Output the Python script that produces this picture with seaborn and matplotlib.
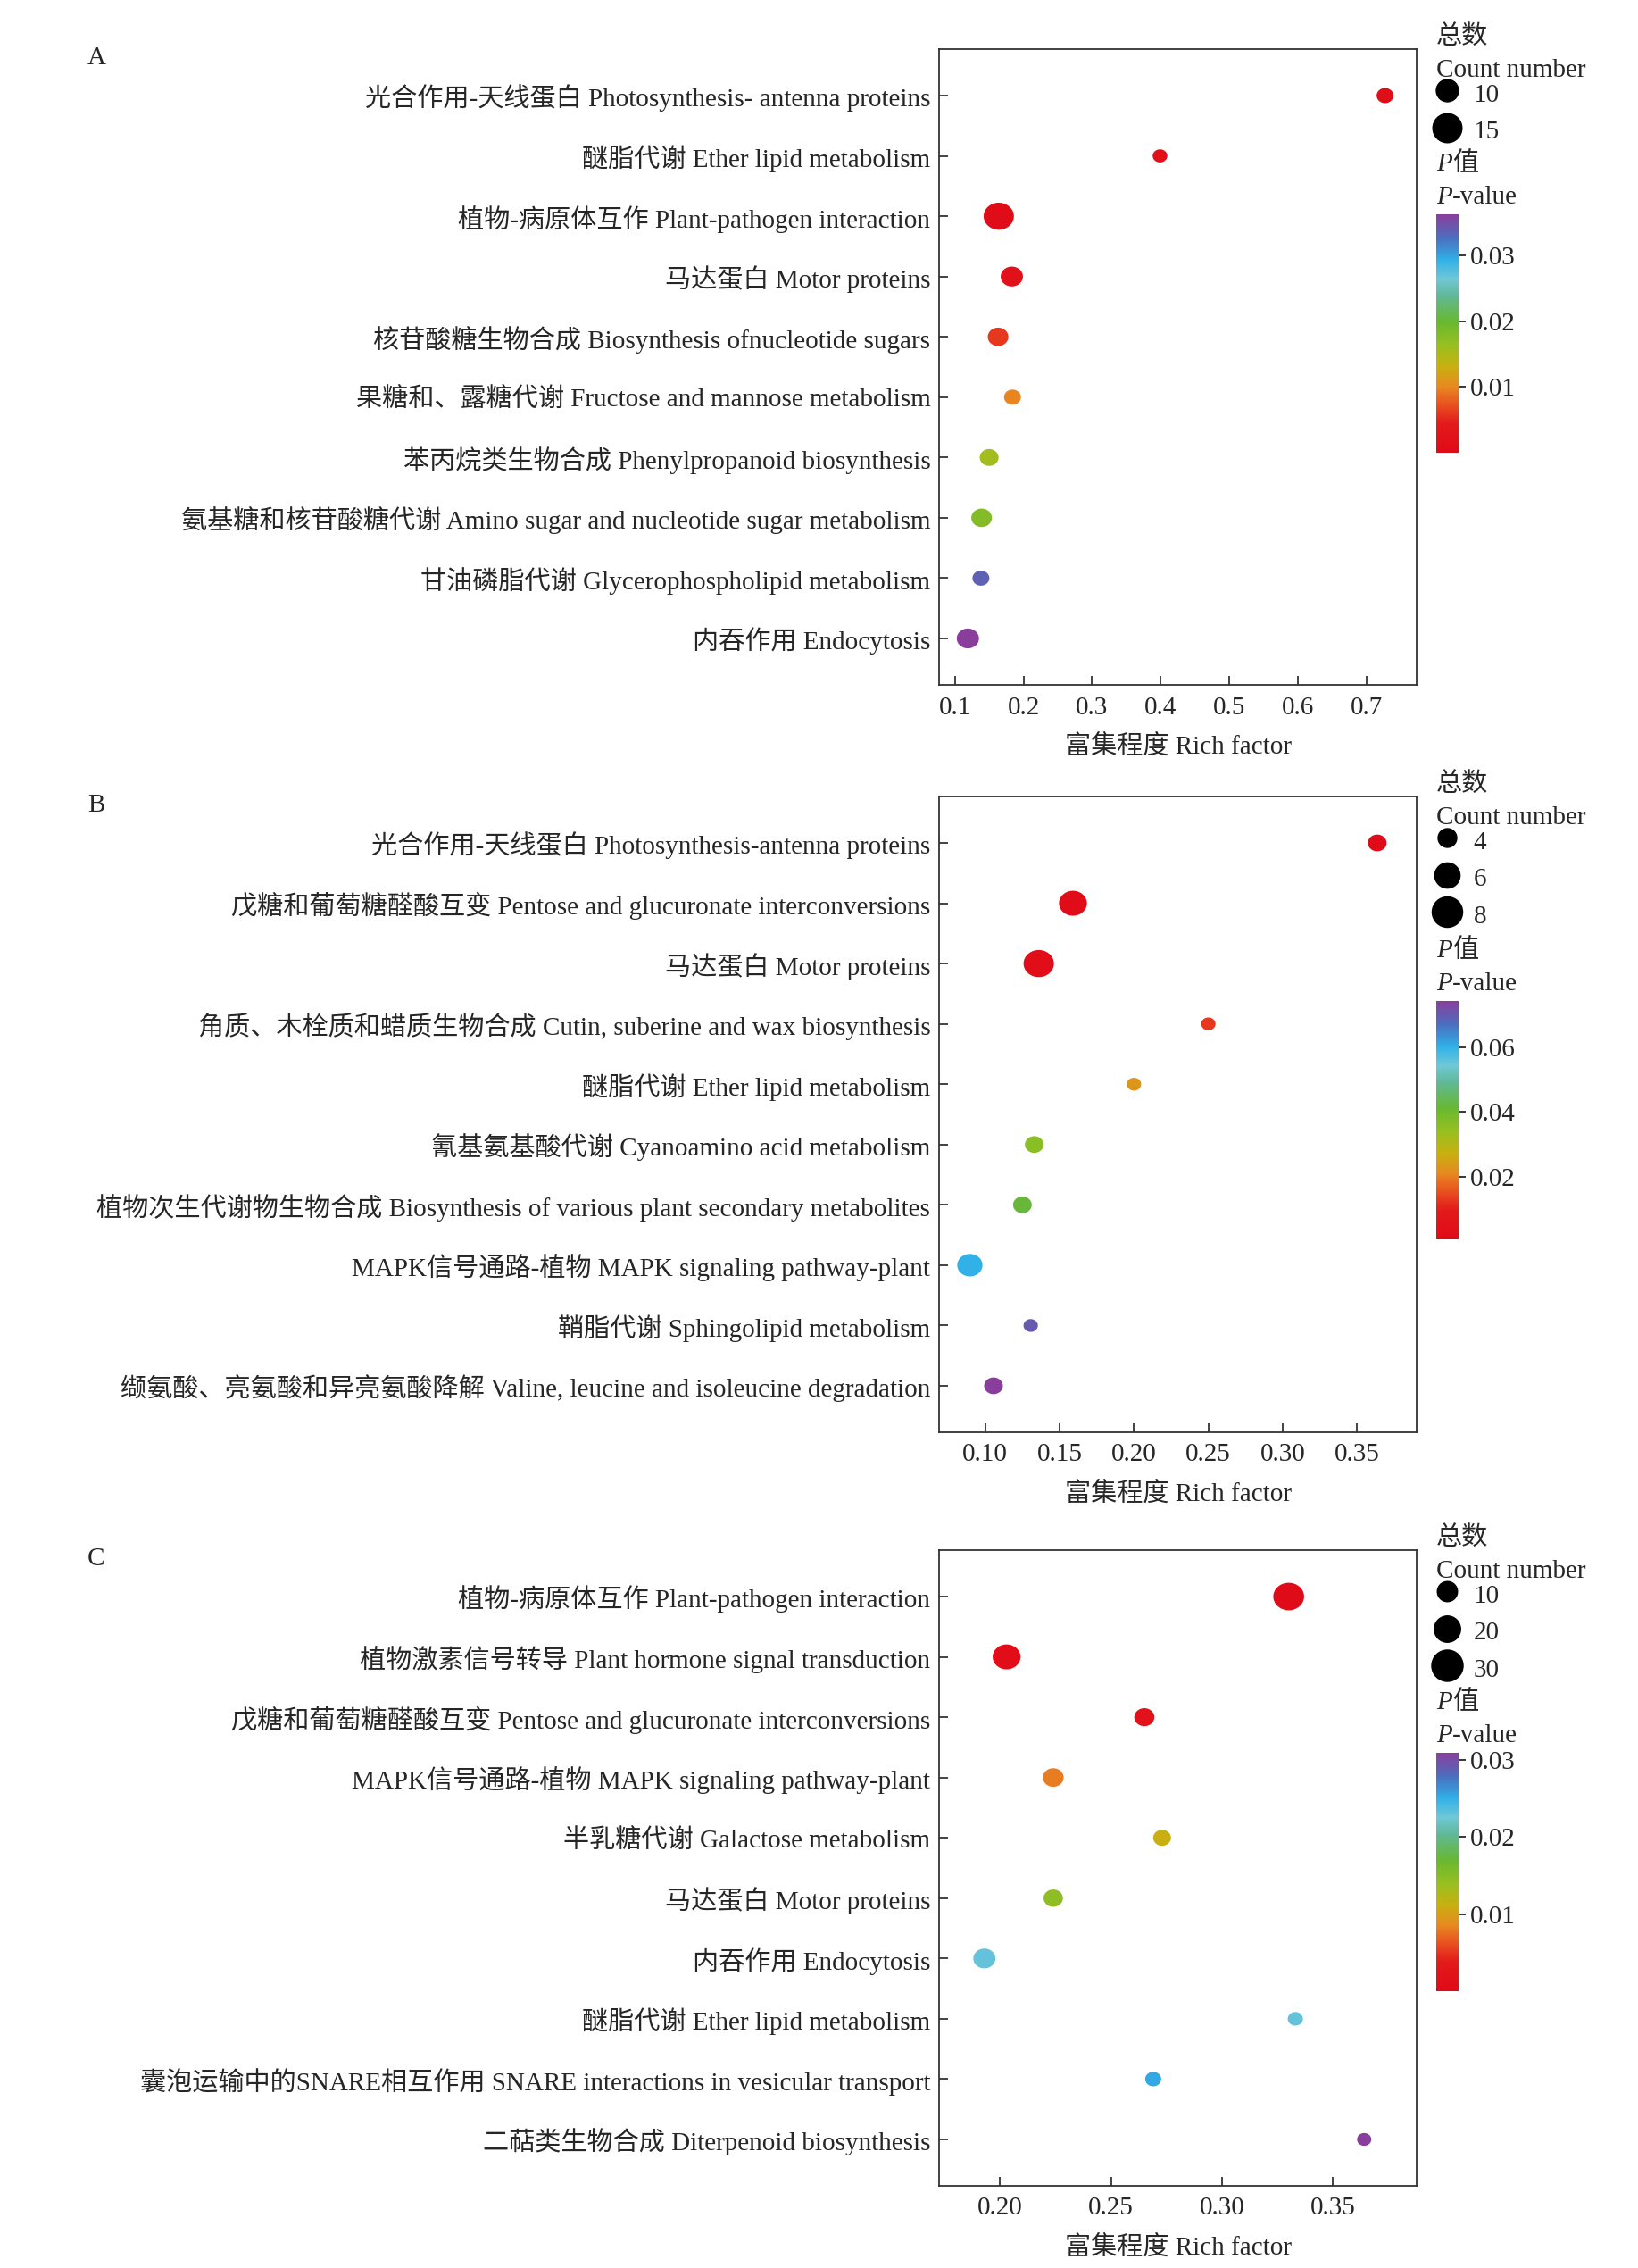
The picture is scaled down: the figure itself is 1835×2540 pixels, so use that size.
import matplotlib
matplotlib.use("Agg")
import matplotlib.pyplot as plt
import numpy as np
import pandas as pd
import seaborn as sns
from matplotlib.colors import LinearSegmentedColormap, Normalize
from matplotlib.cm import ScalarMappable
from matplotlib.lines import Line2D
from matplotlib.markers import MarkerStyle
from matplotlib.path import Path

sns.set_style("ticks")
plt.rcParams['font.family'] = ['Liberation Serif', 'Noto Sans CJK SC']

# -------------------------------------------------------------------
# DATA
# -------------------------------------------------------------------
A_terms = ['光合作用-天线蛋白 Photosynthesis- antenna proteins',
           '醚脂代谢 Ether lipid metabolism',
           '植物-病原体互作 Plant-pathogen interaction',
           '马达蛋白 Motor proteins',
           '核苷酸糖生物合成 Biosynthesis ofnucleotide sugars',
           '果糖和、露糖代谢 Fructose and mannose metabolism',
           '苯丙烷类生物合成 Phenylpropanoid biosynthesis',
           '氨基糖和核苷酸糖代谢 Amino sugar and nucleotide sugar metabolism',
           '甘油磷脂代谢 Glycerophospholipid metabolism',
           '内吞作用 Endocytosis']
A_rich = [0.727, 0.399, 0.164, 0.183, 0.163, 0.184, 0.150, 0.139, 0.138, 0.119]
A_count = [7, 6, 16, 10, 9, 7, 8, 9, 7, 10]
A_p = [0.001, 0.002, 0.0005, 0.002, 0.006, 0.0098, 0.0156, 0.018, 0.0338, 0.0363]

B_terms = ['光合作用-天线蛋白 Photosynthesis-antenna proteins',
           '戊糖和葡萄糖醛酸互变 Pentose and glucuronate interconversions',
           '马达蛋白 Motor proteins',
           '角质、木栓质和蜡质生物合成 Cutin, suberine and wax biosynthesis',
           '醚脂代谢 Ether lipid metabolism',
           '氰基氨基酸代谢 Cyanoamino acid metabolism',
           '植物次生代谢物生物合成 Biosynthesis of various plant secondary metabolites',
           'MAPK信号通路-植物 MAPK signaling pathway-plant',
           '鞘脂代谢 Sphingolipid metabolism',
           '缬氨酸、亮氨酸和异亮氨酸降解 Valine, leucine and isoleucine degradation']
B_rich = [0.3635, 0.159, 0.136, 0.250, 0.200, 0.133, 0.125, 0.0897, 0.1306, 0.1056]
B_count = [4, 7, 8, 3, 3, 4, 4, 6, 3, 4]
B_p = [0.001, 0.002, 0.003, 0.013, 0.023, 0.036, 0.042, 0.060, 0.070, 0.0743]

C_terms = ['植物-病原体互作 Plant-pathogen interaction',
           '植物激素信号转导 Plant hormone signal transduction',
           '戊糖和葡萄糖醛酸互变 Pentose and glucuronate interconversions',
           'MAPK信号通路-植物 MAPK signaling pathway-plant',
           '半乳糖代谢 Galactose metabolism',
           '马达蛋白 Motor proteins',
           '内吞作用 Endocytosis',
           '醚脂代谢 Ether lipid metabolism',
           '囊泡运输中的SNARE相互作用 SNARE interactions in vesicular transport',
           '二萜类生物合成 Diterpenoid biosynthesis']
C_rich = [0.330, 0.203, 0.265, 0.224, 0.273, 0.224, 0.193, 0.333, 0.269, 0.364]
C_count = [29, 23, 10, 11, 7, 9, 13, 4, 5, 3]
C_p = [0.0002, 0.001, 0.002, 0.008, 0.011, 0.0145, 0.023, 0.023, 0.0253, 0.0309]

# colour scale: red (small P) -> orange -> green -> cyan -> blue -> purple
cmap_pos = [0, 0.12, 0.2, 0.275, 0.36, 0.45, 0.55, 0.66, 0.73, 0.81, 0.9, 1.0]
cmap_hex = ["#e00a18", "#e21a1a", "#e85020", "#e88820", "#c8b010", "#98c020",
            "#68b830", "#60b898", "#70c8d8", "#30b0e8", "#4a70c0", "#8a3e9c"]
pcmap = LinearSegmentedColormap.from_list("kegg", list(zip(cmap_pos, cmap_hex)))

# -------------------------------------------------------------------
# FIGURE
# -------------------------------------------------------------------
W, H = 1835, 2540
fig = plt.figure(figsize=(W / 100, H / 100), dpi=100)
FS = 21        # axis text
LFS = 21       # legend text
PX2PT = (72 / 100) ** 2


def fx(px):
    return px / W


def fy(py):
    return 1 - py / H


# slightly squashed dots like in the original
t = np.linspace(0, 2 * np.pi, 60)
ellipse = MarkerStyle(Path(np.column_stack([np.cos(t), np.sin(t) / 1.12]), closed=True))

panels = [
    dict(letter="A", terms=A_terms, rich=A_rich, count=A_count, p=A_p, top=55,
         xlim=(0.077, 0.773), xticks=[0.1, 0.2, 0.3, 0.4, 0.5, 0.6, 0.7], fmt="{:.1f}",
         breaks=[10, 15], size_norm=(6, 16), area_px=(270, 1150),
         p_range=(0.0, 0.0363), p_ticks=[0.01, 0.02, 0.03], cbar_top=240),
    dict(letter="B", terms=B_terms, rich=B_rich, count=B_count, p=B_p, top=892,
         xlim=(0.069, 0.390), xticks=[0.10, 0.15, 0.20, 0.25, 0.30, 0.35], fmt="{:.2f}",
         breaks=[4, 6, 8], size_norm=(3, 8), area_px=(260, 1160),
         p_range=(0.0007, 0.0743), p_ticks=[0.02, 0.04, 0.06], cbar_top=1121),
    dict(letter="C", terms=C_terms, rich=C_rich, count=C_count, p=C_p, top=1736,
         xlim=(0.1726, 0.3876), xticks=[0.20, 0.25, 0.30, 0.35], fmt="{:.2f}",
         breaks=[10, 20, 30], size_norm=(3, 30), area_px=(255, 1230),
         p_range=(0.0, 0.0309), p_ticks=[0.01, 0.02, 0.03], cbar_top=1963),
]

for pn in panels:
    top = pn['top']
    ax = fig.add_axes([fx(1052), fy(top + 712), fx(535), 712 / H])
    df = pd.DataFrame({'term': pn['terms'], 'rich': pn['rich'],
                       'count': pn['count'], 'p': pn['p']})
    s_lo, s_hi = [a * PX2PT for a in pn['area_px']]
    pnorm = Normalize(*pn['p_range'])
    sns.scatterplot(data=df, x='rich', y='term', size='count', sizes=(s_lo, s_hi),
                    size_norm=pn['size_norm'], hue='p', hue_norm=pnorm, palette=pcmap,
                    marker=ellipse, linewidth=0, legend=False, ax=ax)

    ax.set_xlim(*pn['xlim'])
    ax.set_ylim(len(df) - 1 + 0.77, -0.77)
    ax.set_xticks(pn['xticks'])
    ax.set_xticklabels([pn['fmt'].format(v) for v in pn['xticks']])
    ax.set_xlabel('富集程度 Rich factor', fontsize=FS, labelpad=12)
    ax.set_ylabel('')
    ax.tick_params(direction='in', length=7, width=1.2, labelsize=FS, color='#222222')
    ax.tick_params(axis='x', pad=9)
    ax.tick_params(axis='y', pad=7)
    for sp in ax.spines.values():
        sp.set_linewidth(1.3)
        sp.set_color('#333333')

    fig.text(fx(98), fy(top + 10), pn['letter'], fontsize=FS, va='center')

    # size legend
    fig.text(fx(1609), fy(top - 13), '总数', fontsize=LFS, va='center')
    fig.text(fx(1609), fy(top + 24), 'Count number', fontsize=LFS, va='center')
    lo, hi = pn['size_norm']
    handles = []
    for b in pn['breaks']:
        area = pn['area_px'][0] + (b - lo) / (hi - lo) * (pn['area_px'][1] - pn['area_px'][0])
        handles.append(Line2D([], [], marker='o', linestyle='', color='black',
                              markersize=np.sqrt(area * PX2PT)))
    ax.legend(handles, [str(b) for b in pn['breaks']], loc='upper left',
              bbox_to_anchor=(fx(1600), fy(top + 33)), bbox_transform=fig.transFigure,
              frameon=False, fontsize=LFS, borderpad=0, borderaxespad=0,
              handlelength=1.45, handleheight=1.3, handletextpad=0.28, labelspacing=0.34)

    # colour bar
    cb_top = pn['cbar_top']
    p1 = fig.text(fx(1609), fy(cb_top - 56), 'P', style='italic', fontsize=LFS, va='center')
    ax.annotate('值', xy=(1, 0), xycoords=p1, va='bottom', ha='left',
                fontsize=LFS, annotation_clip=False)
    p2 = fig.text(fx(1609), fy(cb_top - 19), 'P', style='italic', fontsize=LFS, va='center')
    ax.annotate('-value', xy=(1, 0), xycoords=p2, va='bottom', ha='left',
                fontsize=LFS, annotation_clip=False)
    cax = fig.add_axes([fx(1609), fy(cb_top + 267), fx(25), 267 / H])
    cb = fig.colorbar(ScalarMappable(norm=pnorm, cmap=pcmap), cax=cax, ticks=pn['p_ticks'])
    cb.outline.set_visible(False)
    cb.ax.set_yticklabels(['{:.2f}'.format(v) for v in pn['p_ticks']])
    cax.tick_params(direction='out', length=6, width=1.3, labelsize=LFS, pad=3)

fig.savefig('out.png', dpi=100, facecolor='white')
